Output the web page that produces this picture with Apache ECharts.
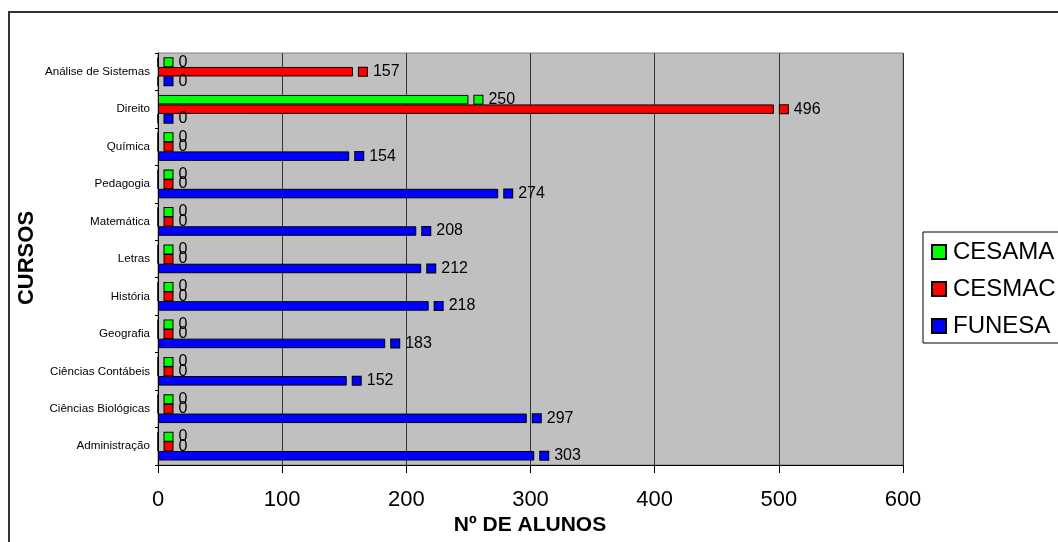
<!DOCTYPE html>
<html>
<head>
<meta charset="utf-8">
<script src="https://cdn.jsdelivr.net/npm/echarts@6/dist/echarts.min.js"></script>
<style>
  html, body { margin: 0; padding: 0; background: #fff; }
  #chart { width: 1058px; height: 542px; }
</style>
</head>
<body>
<div id="chart"></div>
<script>
// Courses, listed from the bottom of the axis to the top
const cursos = [
  'Administração', 'Ciências Biológicas', 'Ciências Contábeis', 'Geografia',
  'História', 'Letras', 'Matemática', 'Pedagogia', 'Química', 'Direito',
  'Análise de Sistemas'
];
// Number of students per institution
const cesama = [0, 0, 0, 0, 0, 0, 0, 0, 0, 250, 0];
const cesmac = [0, 0, 0, 0, 0, 0, 0, 0, 0, 496, 157];
const funesa = [303, 297, 152, 183, 218, 212, 208, 274, 154, 0, 0];
const xTicks = [0, 100, 200, 300, 400, 500, 600];

const FONT = 'Liberation Sans, Arial, sans-serif';

function barSeries(name, data, color) {
  return {
    name: name,
    type: 'bar',
    data: data,
    barGap: '0%',
    barCategoryGap: '24%',
    itemStyle: { color: color, borderColor: '#000', borderWidth: 1 },
    label: {
      show: true,
      position: 'right',
      distance: 6,
      formatter: function (p) { return '{m|}{v|' + p.value + '}'; },
      rich: {
        m: { width: 8, height: 8, backgroundColor: color, borderColor: '#000', borderWidth: 1 },
        v: { fontSize: 16, fontFamily: FONT, color: '#000', padding: [0, 0, 0, 6] }
      }
    }
  };
}

const chart = echarts.init(document.getElementById('chart'), null, { renderer: 'canvas' });
chart.setOption({
  animation: false,
  backgroundColor: '#fff',
  textStyle: { fontFamily: FONT },
  grid: {
    left: 158, right: 155, top: 53, bottom: 77,
    show: true, backgroundColor: '#C0C0C0', borderColor: '#808080', borderWidth: 1
  },
  xAxis: {
    type: 'value',
    min: xTicks[0],
    max: xTicks[xTicks.length - 1],
    interval: 100,
    axisLine: { show: true, lineStyle: { color: '#000', width: 1 } },
    axisTick: { show: true, length: 8, lineStyle: { color: '#000' } },
    axisLabel: { fontSize: 22, color: '#000', fontFamily: FONT, margin: 24 },
    splitLine: { show: true, lineStyle: { color: '#333', width: 1 } }
  },
  yAxis: {
    type: 'category',
    data: cursos,
    axisLine: { show: true, lineStyle: { color: '#000', width: 1 } },
    axisTick: { show: true, length: 3, lineStyle: { color: '#000' } },
    axisLabel: { fontSize: 11.6, color: '#000', fontFamily: FONT, margin: 8 },
    splitLine: { show: false }
  },
  legend: {
    data: ['CESAMA', 'CESMAC', 'FUNESA'],
    orient: 'vertical',
    left: 923,
    top: 232,
    padding: [8, 12, 5, 8],
    itemGap: 13,
    itemWidth: 14,
    itemHeight: 14,
    icon: 'rect',
    borderColor: '#000',
    borderWidth: 1,
    backgroundColor: '#fff',
    textStyle: { fontSize: 24, color: '#000', fontFamily: FONT, lineHeight: 24, padding: [0, 0, 0, 2] }
  },
  graphic: [
    {
      type: 'rect',
      shape: { x: 9, y: 12, width: 1100, height: 600 },
      style: { fill: 'none', stroke: '#333', lineWidth: 2 },
      silent: true,
      z: -1
    },
    {
      type: 'text',
      x: 27, y: 258,
      rotation: Math.PI / 2,
      style: {
        text: 'CURSOS', fontSize: 22, fontWeight: 'bold', fontFamily: FONT,
        fill: '#000', textAlign: 'center', textVerticalAlign: 'middle'
      }
    },
    {
      type: 'text',
      x: 530, y: 525,
      style: {
        text: 'Nº DE ALUNOS', fontSize: 21, fontWeight: 'bold', fontFamily: FONT,
        fill: '#000', textAlign: 'center', textVerticalAlign: 'middle'
      }
    }
  ],
  // Within each course band the first series is drawn on top
  series: [
    barSeries('CESAMA', cesama, '#00FF00'),
    barSeries('CESMAC', cesmac, '#FF0000'),
    barSeries('FUNESA', funesa, '#0000FF')
  ]
});
</script>
</body>
</html>
